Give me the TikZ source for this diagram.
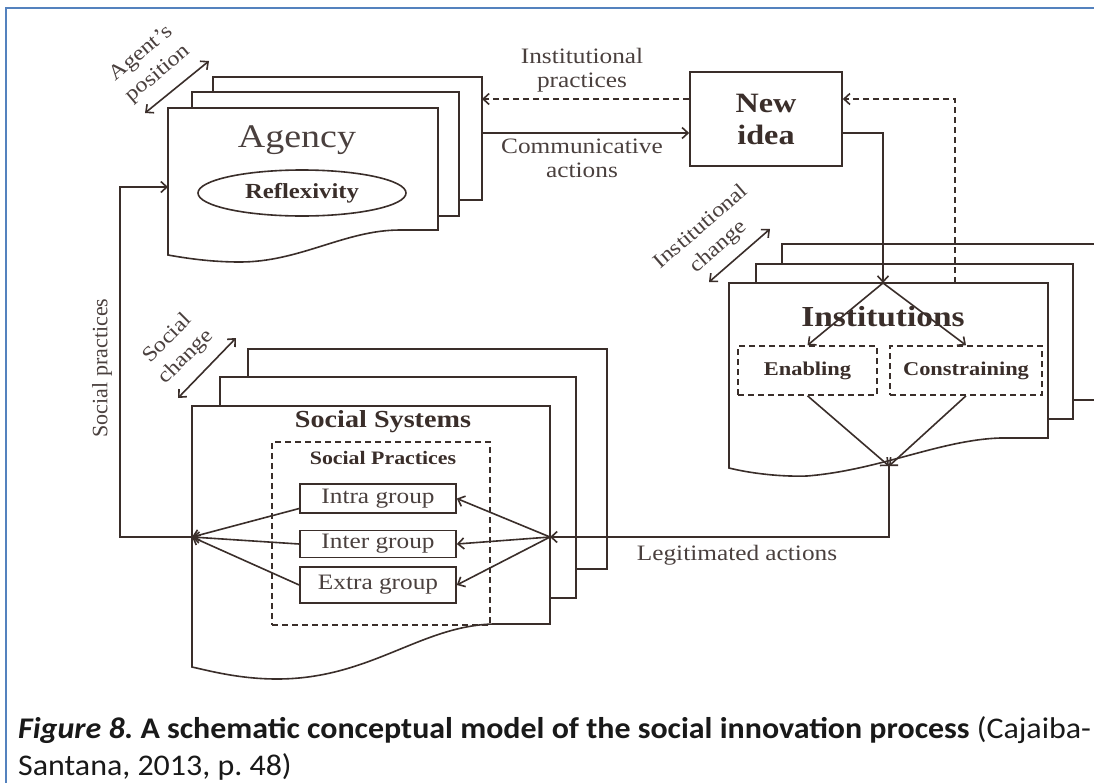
\documentclass[tikz,border=0pt]{standalone}
\usepackage{fontspec}
\usepackage{graphicx}
\setmainfont[FakeStretch=1.15]{Liberation Serif}
\newfontfamily\plainserif{Liberation Serif}
\newfontfamily\capfont{Carlito}
\usetikzlibrary{arrows.meta,shapes.geometric}
\definecolor{ink}{RGB}{58,46,42}
\definecolor{txt}{RGB}{74,64,62}
\definecolor{frameblue}{RGB}{84,130,190}
\begin{document}
\begin{tikzpicture}[x=1pt,y=-1pt,
  line/.style={draw=ink,line width=1.6pt},
  arr/.style={line,-{Straight Barb[length=6pt,width=11pt]}},
  darr/.style={line,{Straight Barb[length=6pt,width=11pt]}-{Straight Barb[length=6pt,width=11pt]}},
  dashline/.style={line,dash pattern=on 6pt off 4pt},
  dasharr/.style={dashline,-{Straight Barb[length=6pt,width=11pt]}},
  page/.style={line,fill=white},
  lab/.style={text=txt,inner sep=0pt,align=center,font=\fontsize{22}{24}\selectfont},
  dashbox/.style={dashline,inner sep=0pt,text=ink,font=\bfseries\fontsize{19.5}{22}\selectfont},
  gbox/.style={line,inner sep=0pt,minimum width=156pt,text=txt,font=\fontsize{22}{24}\selectfont},
  captext/.style={anchor=base west,inner sep=0pt,text=black!90,font=\capfont\frenchspacing\fontsize{30}{36}\selectfont}
]
\useasboundingbox (0,0) rectangle (1094,782);
\clip (0,0) rectangle (1094,782);
\fill[white] (0,0) rectangle (1094,782);
\draw[frameblue,line width=2pt] (6,800) -- (6,8) -- (1100,8);

% ---------- Agency ----------
\draw[page] (213,77) rectangle (482,200);
\draw[page] (192,92) rectangle (459,216);
\draw[page] (168,255) -- (168,108) -- (438,108) -- (438,230) -- (400,230)
   .. controls (345,230) and (300,262) .. (240,262)
   .. controls (210,262) and (185,258) .. (168,255) -- cycle;
\node[text=txt,inner sep=0pt,font=\fontsize{33}{36}\selectfont] (agtitle) at (297,140) {Agency};
\node[ellipse,line,minimum width=208pt,minimum height=46pt,inner sep=0pt,text=ink,
      font=\bfseries\fontsize{21.5}{24}\selectfont] (refl) at (302,193) {Reflexivity};
\coordinate (agw) at (168,187);
\coordinate (agR1) at (482,99);
\coordinate (agR2) at (482,133);

% ---------- New idea ----------
\node[line,minimum width=152pt,minimum height=94pt,inner sep=0pt,align=center,text=ink,
      font=\bfseries\fontsize{28}{32}\selectfont] (idea) at (766,119) {New\\idea};

% ---------- Institutions ----------
\draw[page] (782,400) -- (782,244) -- (1110,244) -- (1110,400) -- cycle;
\draw[page] (756,264) rectangle (1073,419);
\draw[page] (729,468) -- (729,283) -- (1048,283) -- (1048,438) -- (1000,438)
   .. controls (940,440) and (880,470) .. (807,476)
   .. controls (775,477) and (745,472) .. (729,468) -- cycle;
\node[text=ink,inner sep=0pt,font=\bfseries\fontsize{29}{32}\selectfont] (insttitle) at (883,317) {Institutions};
\node[dashbox,minimum width=139pt,minimum height=49pt] (enab) at (807.5,370.5) {Enabling};
\node[dashbox,minimum width=152pt,minimum height=49pt] (constr) at (966,370.5) {Constraining};
\coordinate (inT) at (883,283);
\coordinate (inD) at (955,283);
\coordinate (inB) at (889,466);

% ---------- Social Systems ----------
\draw[page] (248,349) rectangle (607,569);
\draw[page] (220,377) rectangle (576,598);
\draw[page] (192,667) -- (192,406) -- (550,406) -- (550,624) -- (493,624)
   .. controls (420,626) and (370,679) .. (277,679)
   .. controls (240,679) and (210,671) .. (192,667) -- cycle;
\node[text=ink,inner sep=0pt,font=\bfseries\fontsize{24.5}{27}\selectfont] (sstitle) at (383,422) {Social Systems};
\node[dashline,minimum width=218pt,minimum height=183pt,inner sep=0pt] (spbox) at (381,533.5) {};
\node[text=ink,inner sep=0pt,font=\bfseries\fontsize{19}{22}\selectfont] (sptitle) at (383,458) {Social Practices};
\node[gbox,minimum height=29pt] (intra) at (378,498.5) {Intra group};
\node[gbox,minimum height=27pt] (inter) at (378,544) {Inter group};
\node[gbox,minimum height=36pt] (extra) at (378,585) {Extra group};
\coordinate (ssL) at (192,537);
\coordinate (ssR) at (550,537);

% ---------- connectors ----------
\draw[arr] ([yshift=-10pt]intra.west) -- (ssL);
\draw[arr] (inter.west) -- (ssL);
\draw[arr] (extra.west) -- (ssL);
\draw[arr] (ssR) -- (intra.east);
\draw[arr] (ssR) -- (inter.east);
\draw[arr] (ssR) -- (extra.east);
\draw[arr] (ssL) -- ++(-72,0) |- (agw);
\draw[arr] (inB) -- (inB |- ssR) -- (ssR);
\draw[arr] (enab.south) -- (inB);
\draw[arr] (constr.south) -- (inB);
\draw[arr] ([yshift=-14pt]idea.east) -| (inT);
\draw[arr] (inT) -- (enab.north);
\draw[arr] (inT) -- (constr.north);
\draw[dasharr] (inD) |- ([yshift=20pt]idea.east);
\draw[dasharr] ([yshift=20pt]idea.west) -- (agR1);
\draw[arr] (agR2) -- ([yshift=-14pt]idea.west);

% ---------- change arrows ----------
\coordinate (apA) at (145,113); \coordinate (apB) at (209,61);
\coordinate (icA) at (709,282); \coordinate (icB) at (770,229);
\coordinate (scA) at (178,398); \coordinate (scB) at (236,338);
\draw[darr] (apA) -- (apB);
\draw[darr] (icA) -- (icB);
\draw[darr] (scA) -- (scB);

% ---------- labels ----------
\node[lab,font=\fontsize{21}{26}\selectfont,rotate=40] (aplab) at (150,64) {Agent’s\\position};
\node[lab,font=\fontsize{21}{26}\selectfont,rotate=41] (iclab) at (710,237) {Institutional\\change};
\node[lab,font=\fontsize{21}{26}\selectfont,rotate=45] (sclab) at (177,348) {Social\\change};
\node[lab,font=\plainserif\fontsize{22}{24}\selectfont,rotate=90] (splab) at (102,368) {Social practices};
\node[lab] (iplab) at (582,70) {Institutional\\practices};
\node[lab] (calab) at (582,158) {Communicative\\actions};
\node[lab] (lalab) at (737,555) {Legitimated actions};

% ---------- caption ----------
\node[captext] (cap1) at (18,738)
  {\scalebox{1.065}[1]{\textbf{\textit{Figure 8.}} \textbf{A schematic conceptual model of the social innovation process} (Cajaiba-}};
\node[captext] (cap2) at (18,775)
  {\scalebox{1.065}[1]{Santana, 2013, p. 48)}};
\end{tikzpicture}
\end{document}
